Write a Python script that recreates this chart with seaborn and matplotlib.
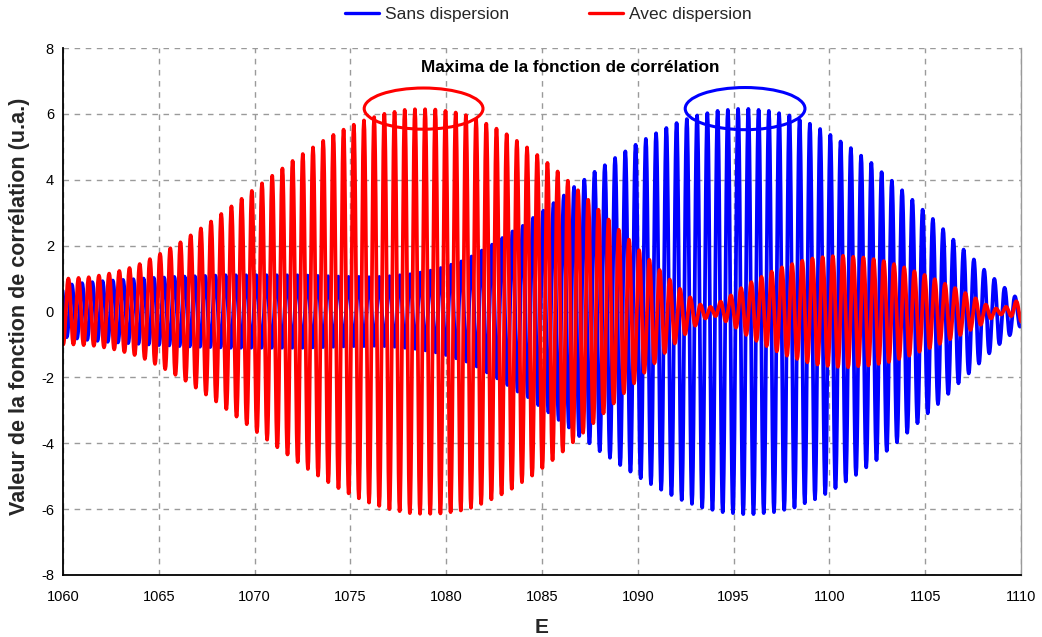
import numpy as np
import pandas as pd
import matplotlib
matplotlib.use("Agg")
import matplotlib.pyplot as plt
from matplotlib.patches import Ellipse
import seaborn as sns

# ---- data -------------------------------------------------------------
# Peak heights of each oscillation (one value per period)
blue_peaks = [
    0.78,
    0.82, 0.86, 0.89, 0.92, 0.94, 0.96, 0.98, 1.00, 1.02, 1.03,
    1.05, 1.06, 1.07, 1.08, 1.09, 1.10, 1.10, 1.10, 1.10, 1.10,
    1.10, 1.10, 1.10, 1.09, 1.08, 1.07, 1.06, 1.05, 1.05, 1.04,
    1.05, 1.07, 1.10, 1.13, 1.18, 1.24, 1.32, 1.42, 1.52, 1.67,
    1.85, 2.03, 2.23, 2.43, 2.60, 2.84, 3.06,
    3.29, 3.52, 3.78, 4.00, 4.24, 4.44, 4.66, 4.86, 5.06, 5.24,
    5.41, 5.57, 5.72, 5.84, 5.95, 6.02, 6.09, 6.12, 6.15, 6.15,
    6.12, 6.09, 6.02, 5.95, 5.82, 5.70, 5.54, 5.36, 5.16, 4.96,
    4.73, 4.51, 4.23, 3.97, 3.68, 3.39, 3.09, 2.81, 2.50, 2.18,
    1.88, 1.58, 1.27, 0.99, 0.72, 0.46,
]
red_first_trough = 1.00
red_peaks = [
    1.00, 1.02, 1.04, 1.09, 1.15, 1.23, 1.32, 1.44, 1.59, 1.75,
    1.92, 2.10, 2.31, 2.52, 2.73, 2.96, 3.19, 3.42, 3.66, 3.89,
    4.12, 4.34, 4.57, 4.78, 4.98, 5.18, 5.36, 5.52, 5.67, 5.80,
    5.90, 6.00, 6.06, 6.12, 6.14, 6.14, 6.13, 6.09, 6.04, 5.96,
    5.84, 5.70, 5.55, 5.38, 5.18, 4.98, 4.75, 4.51, 4.25,
    3.97, 3.68, 3.39, 3.09, 2.79, 2.48, 2.18, 1.86, 1.57, 1.26,
    0.97, 0.69, 0.43, 0.21, 0.14, 0.30, 0.49, 0.71, 0.89, 1.05,
    1.21, 1.34, 1.44, 1.54, 1.61, 1.65, 1.68, 1.69, 1.66, 1.64,
    1.59, 1.53, 1.44, 1.34, 1.22, 1.11, 0.98, 0.84, 0.71, 0.56,
    0.40, 0.21, 0.09, 0.14, 0.31,
]
blue_first_peak_E = 1059.925
blue_period = 0.535
red_first_peak_E = 1060.28
red_period = 0.532

series_names = ["Sans dispersion", "Avec dispersion"]
x_ticks = [1060, 1065, 1070, 1075, 1080, 1085, 1090, 1095, 1100, 1105, 1110]
y_ticks = [-8, -6, -4, -2, 0, 2, 4, 6, 8]
annotation = "Maxima de la fonction de corrélation"
x_label = "E"
y_label = "Valeur de la fonction de corrélation (u.a.)"


def extrema(first_peak, period, peaks, lead_trough=None):
    """Alternate each peak with a mirrored trough half a period later."""
    xs, ys = [], []
    if lead_trough is not None:
        xs.append(first_peak - period / 2)
        ys.append(-lead_trough)
    for i, a in enumerate(peaks):
        xp = first_peak + i * period
        xs += [xp, xp + period / 2]
        ys += [a, -a]
    return np.array(xs), np.array(ys)


def smooth(xs, ys, n=10):
    """Half-cosine segments joining consecutive extrema."""
    t = np.linspace(0, 1, n, endpoint=False)
    w = (1 - np.cos(np.pi * t)) / 2
    X = [xs[i] + (xs[i + 1] - xs[i]) * t for i in range(len(xs) - 1)]
    Y = [ys[i] + (ys[i + 1] - ys[i]) * w for i in range(len(xs) - 1)]
    return np.concatenate(X + [[xs[-1]]]), np.concatenate(Y + [[ys[-1]]])


bx, by = smooth(*extrema(blue_first_peak_E, blue_period, blue_peaks))
rx, ry = smooth(*extrema(red_first_peak_E, red_period, red_peaks, red_first_trough))
df = pd.concat([
    pd.DataFrame({"E": bx, "val": by, "serie": series_names[0]}),
    pd.DataFrame({"E": rx, "val": ry, "serie": series_names[1]}),
], ignore_index=True)

# ---- style ------------------------------------------------------------
sns.set_theme(style="white")
plt.rcParams["font.family"] = ["Liberation Sans", "DejaVu Sans"]
plt.rcParams["axes.unicode_minus"] = False

W, H = 1042, 637
fig = plt.figure(figsize=(W / 100, H / 100), dpi=100)
ax = fig.add_axes([63 / W, 1 - 575 / H, (1021 - 63) / W, (575 - 48) / H])

palette = {series_names[0]: "#0000FF", series_names[1]: "#FF0000"}
sns.lineplot(data=df, x="E", y="val", hue="serie", palette=palette,
             sort=False, estimator=None, units="serie", linewidth=2.7,
             ax=ax, legend=False)

# highlight the maxima
ax.add_patch(Ellipse((1078.82, 6.16), 6.2, 1.25, fill=False,
                     edgecolor="#FF0000", linewidth=2.2, zorder=5))
ax.add_patch(Ellipse((1095.6, 6.16), 6.25, 1.28, fill=False,
                     edgecolor="#0000FF", linewidth=2.2, zorder=5))
ax.text(1086.5, 7.4, annotation, ha="center", va="center",
        fontsize=12.4, fontweight="bold", color="black")

ax.set_xlim(x_ticks[0], x_ticks[-1])
ax.set_ylim(y_ticks[0], y_ticks[-1])
ax.set_xticks(x_ticks)
ax.set_yticks(y_ticks)
ax.set_xticklabels([str(v) for v in x_ticks])
ax.set_yticklabels([str(v) for v in y_ticks])
ax.tick_params(axis="both", direction="inout", length=6, width=1,
               color="black", labelsize=10.5, labelcolor="black")
ax.tick_params(axis="x", pad=8)

ax.grid(True, color="#9a9a9a", linestyle=(0, (4, 4)), linewidth=1)
for s in ["left", "bottom"]:
    ax.spines[s].set_color("black")
    ax.spines[s].set_linewidth(1.3)
ax.spines["top"].set_visible(False)
ax.spines["right"].set_color("#9a9a9a")
ax.spines["right"].set_linewidth(1)

ax.set_xlabel(x_label, fontsize=15, fontweight="bold")
ax.set_ylabel(y_label, fontsize=15.5, fontweight="bold")
ax.xaxis.set_label_coords(0.5, -0.082)
ax.yaxis.set_label_coords(-0.034, 0.51)

handles = [plt.Line2D([], [], color=palette[n], linewidth=2.4) for n in series_names]
fig.legend(handles, series_names, loc="center", bbox_to_anchor=(548 / W, 1 - 14 / H),
           ncol=2, frameon=False, fontsize=12.5, handlelength=2.0,
           handletextpad=0.3, columnspacing=4.6)

fig.savefig("out.png", dpi=100)
